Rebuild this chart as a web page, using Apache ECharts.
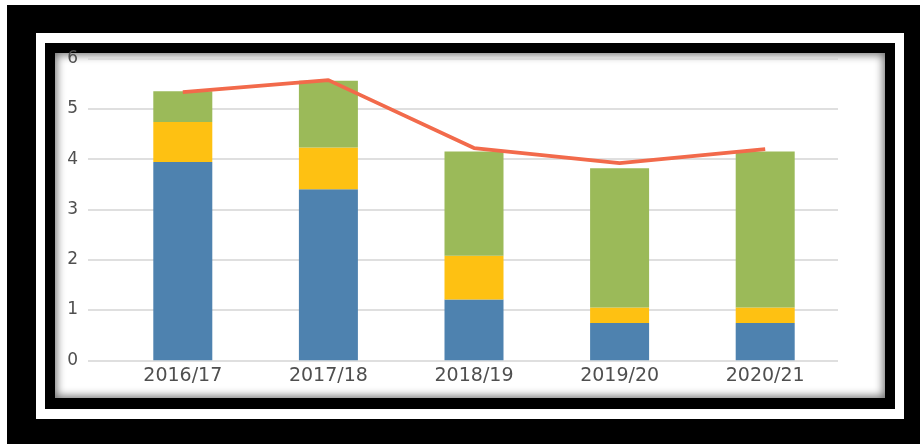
<!DOCTYPE html>
<html>
<head>
<meta charset="utf-8">
<script src="https://cdn.jsdelivr.net/npm/echarts@6/dist/echarts.min.js"></script>
<style>
  html, body { margin: 0; padding: 0; background: #ffffff; }
  body { width: 920px; height: 444px; position: relative; overflow: hidden; }
  .box { position: absolute; }
  #outer { left: 7px; top: 5px; width: 913px; height: 439px; background: #000; }
  #white { left: 36px; top: 33px; width: 868px; height: 386px; background: #fff; }
  #inner { left: 45px; top: 43px; width: 850px; height: 366px; background: #000; }
  #panel { left: 55px; top: 53px; width: 830px; height: 345px; background: #fff;
           box-shadow: inset 0 0 9px 2px rgba(0,0,0,0.55); }
  #chart { position: absolute; left: 0; top: 0; width: 920px; height: 444px; }
</style>
</head>
<body>
<div class="box" id="outer"></div>
<div class="box" id="white"></div>
<div class="box" id="inner"></div>
<div class="box" id="panel"></div>
<div id="chart"></div>
<script>
const categories = ['2016/17', '2017/18', '2018/19', '2019/20', '2020/21'];
const blueValues   = [3.94, 3.40, 1.21, 0.74, 0.74];
const yellowValues = [0.80, 0.83, 0.87, 0.31, 0.31];
const greenValues  = [0.61, 1.33, 2.07, 2.77, 3.10];
const lineValues   = [5.33, 5.57, 4.22, 3.92, 4.20];
const yTicks = { min: 0, max: 6, interval: 1 };

const chart = echarts.init(document.getElementById('chart'), null, { renderer: 'canvas' });
const font = 'DejaVu Sans';
chart.setOption({
  backgroundColor: 'transparent',
  animation: false,
  grid: [
    { left: 110, right: 82, top: 58.5, bottom: 83.7 },
    { left: 88, right: 82, top: 58.5, bottom: 83.7 }
  ],
  xAxis: [
    {
      type: 'category', gridIndex: 0, data: categories,
      axisLine: { show: false }, axisTick: { show: false },
      axisLabel: { color: '#4f4f4f', fontFamily: font, fontSize: 19, margin: 6 }
    },
    { type: 'category', gridIndex: 1, data: categories, show: false }
  ],
  yAxis: [
    {
      type: 'value', gridIndex: 0, min: yTicks.min, max: yTicks.max, interval: yTicks.interval,
      axisLabel: { show: false }, axisLine: { show: false }, axisTick: { show: false },
      splitLine: { show: false }
    },
    {
      type: 'value', gridIndex: 1, min: yTicks.min, max: yTicks.max, interval: yTicks.interval,
      axisLine: { show: false }, axisTick: { show: false },
      axisLabel: { color: '#4f4f4f', fontFamily: font, fontSize: 17, margin: 10 },
      splitLine: { lineStyle: { color: '#d4d4d4', width: 1.6 } }
    }
  ],
  series: [
    { type: 'bar', name: 'A', stack: 's', data: blueValues, barWidth: 59,
      itemStyle: { color: '#4E82AF' }, xAxisIndex: 0, yAxisIndex: 0 },
    { type: 'bar', name: 'B', stack: 's', data: yellowValues, barWidth: 59,
      itemStyle: { color: '#FEC112' }, xAxisIndex: 0, yAxisIndex: 0 },
    { type: 'bar', name: 'C', stack: 's', data: greenValues, barWidth: 59,
      itemStyle: { color: '#9BBA59' }, xAxisIndex: 0, yAxisIndex: 0 },
    { type: 'line', name: 'D', data: lineValues, symbol: 'none',
      lineStyle: { color: '#F26A4B', width: 3.8 }, xAxisIndex: 0, yAxisIndex: 0, z: 5 }
  ]
});
</script>
</body>
</html>
